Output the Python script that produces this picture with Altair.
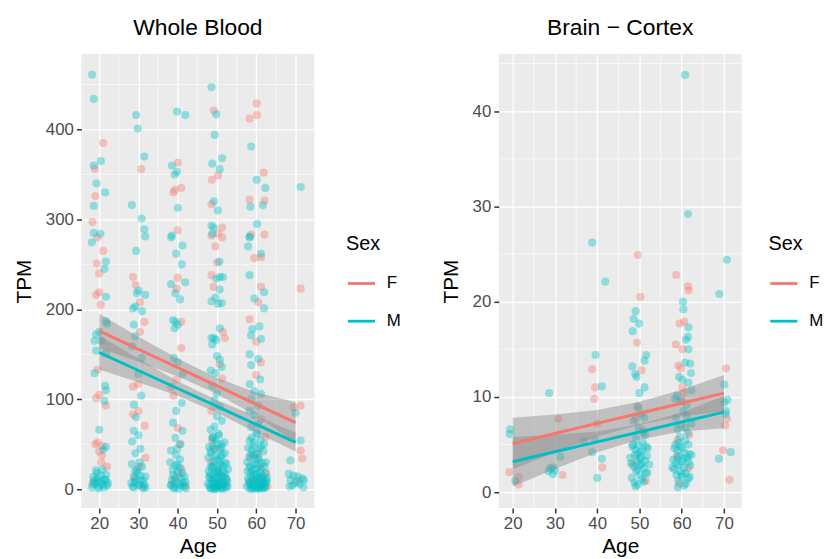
import altair as alt
import pandas as pd

# ---------------- Whole Blood (TPM vs Age) ----------------
wb_F_age = [21, 18.9, 19, 18.3, 19.5, 21, 19.4, 20, 20, 19.2, 20.4, 19.6, 20, 19.2, 21.7, 19.6, 19, 20.8, 20, 20.7, 22, 18.5,
            30.7, 28.6, 29.3, 30.4, 31.5, 30.4, 29.9, 28.6, 30, 28.6, 31.6, 31.8, 29, 31,
            40, 39.3, 40.9, 38.9, 40, 40, 39.7, 40.9, 40.9, 39.7, 38.3, 38.9, 40, 40.5, 41, 39, 42,
            49.2, 50.3, 48.7, 48.6, 51.3, 50.3, 48.6, 51.3, 49.6, 50, 48.6, 49.1, 51.5, 52, 50.7, 51.3, 48.6,
            48.5, 50.5, 51.8, 49.2, 52.3, 50,
            60.1, 58.3, 60.2, 61.9, 58.3, 62.1, 62.1, 58.7, 59.5, 61.2, 61.2, 60.5, 58.3, 60, 61.2, 60, 61.2, 62.4,
            58.5, 61, 62.5, 59.2, 60.8, 62.8,
            71.3, 71.3, 69.6, 71.3, 71.7, 70.5,
            49.8, 51, 48.7, 60.4, 58.9, 61.7, 40.1, 30.2, 20.5]
wb_F_tpm = [385, 356, 326, 297, 280, 265, 251, 240, 219, 216, 205, 133, 105, 101, 93, 52, 50, 48, 42, 37.5, 25, 8,
            356, 236, 227, 208, 186, 175, 117, 114, 87, 83, 70.6, 35, 12, 3,
            363, 333, 335, 330, 288, 235, 223, 186, 157, 122, 114, 104, 68, 50, 22, 8, 4,
            421, 349, 344, 317, 291, 284, 282, 280, 270, 252, 238, 225, 175, 168, 139, 123, 87,
            30, 22, 14, 8, 4, 2,
            429, 412, 416, 352, 322, 321, 283, 283, 257, 258, 225, 208, 189, 164, 141, 127, 78, 58,
            35, 25, 18, 10, 5, 3,
            223, 93, 91, 43, 34, 9,
            45, 12, 55, 40, 8, 13, 15, 25, 30]

wb_M_age = [18.2, 18.6, 18.6, 20.4, 19.3, 21.5, 18.6, 18.6, 20.3, 18.1, 21.7, 21.3, 21.7, 21.7, 22, 19.2, 20, 18.8, 20.6, 19.2,
            21.7, 18.8, 21.5, 21.7, 21.3, 20, 21, 21.7, 19.2, 20.8, 18.5, 19.6, 19, 20.8, 18.3, 20, 21.7, 22, 19.6, 20.4, 21.3,
            18.2, 18.8, 19.4, 20.6, 21.2, 21.8, 22.2, 19.8,
            29.4, 29.8, 31.5, 30.8, 28.3, 31.5, 31.7, 29.4, 30, 31.7, 29.6, 29.2, 30.9, 28.6, 28.8, 29.2, 28.4, 30.8, 30,
            30.7, 28.8, 29.4, 28.8, 30, 28.4, 30.5, 29.2, 28.3, 29.6, 30.5, 28.8, 29, 30.3, 31.2, 28.5, 31.8, 29.8, 30.9,
            28.2, 28.8, 29.4, 30, 30.6, 31.2, 31.8, 29.1, 30.3, 31.5,
            39.8, 41.9, 38.5, 39.8, 39.2, 40, 38.5, 38.3, 41.2, 39.6, 41, 38.3, 41.9, 39.4, 40.6, 38.8, 39.4, 40, 39.2,
            39, 40, 41.2, 41, 39.6, 38.8, 41.2, 39.4, 38.3, 39.6, 40.6, 39.4, 40, 38.8, 38.5, 40.3, 41.5, 39.2, 40.8, 42, 38.2,
            38.1, 38.7, 39.3, 39.9, 40.5, 41.1, 41.7, 38.4, 39, 39.6, 40.2, 40.8, 41.4, 42.1, 39.8, 40.7,
            48.6, 49.8, 49.4, 51.3, 48.8, 50.7, 49.2, 50.2, 48.6, 49.2, 48.8, 50.6, 50.7, 49.8, 51.5, 50.7, 49.6, 48.6,
            51.2, 50.3, 50.7, 48.6, 49.2, 49.8, 48.8, 50, 50.7, 51.2, 48.4, 49.6, 48.8, 50, 49.4, 50.7, 50, 51.2, 49.4,
            48.4, 50.3, 48.9, 50, 51.2, 48.6, 49.6, 50.7, 49, 50, 48.4, 51.2,
            48.2, 49, 49.8, 50.6, 51.4, 52.2, 48.6, 49.4, 50.2, 51, 51.8, 52.5, 48, 49.2, 50.4, 51.6, 52.8, 48.8, 50.8,
            52, 49.6, 51.3, 50, 48.5,
            47.8, 48.3, 48.9, 49.5, 50.1, 50.7, 51.3, 51.9, 52.4, 47.9, 48.4, 49.1, 49.7, 50.3, 50.9, 51.5, 52.1, 52.6,
            47.7, 48.1, 48.7, 49.3, 49.9, 50.5, 51.1, 51.7, 52.3, 48.3, 49.1, 49.9, 50.7, 51.5, 52.7, 48.9, 50.5, 49.3,
            51.1, 52, 48, 50.2,
            58.7, 60.1, 62.3, 58.5, 61.7, 60.2, 58.3, 58.3, 57.9, 61.2, 58.3, 62, 59.5, 62, 59, 60.8, 58.7, 61.2, 58.3,
            60.5, 58.7, 61, 58.3, 59.5, 61.2, 58.7, 60.5, 58.3, 59.5, 60.5, 58.7, 60, 58.3, 59.5, 60.8, 58.7, 60.5, 59.5,
            58.3, 61.2,
            57.8, 58.6, 59.4, 60.2, 61, 61.8, 62.6, 58.2, 59, 59.8, 60.6, 61.4, 62.2, 58.4, 59.2, 60, 60.8, 61.6, 62.4,
            58.8, 60.4, 62, 59.6, 61.2,
            57.7, 58.2, 58.8, 59.4, 60, 60.6, 61.2, 61.8, 62.4, 57.9, 58.5, 59.1, 59.7, 60.3, 60.9, 61.5, 62.1, 62.7,
            57.6, 58.1, 58.7, 59.3, 59.9, 60.5, 61.1, 61.7, 62.3, 58.4, 59.1, 59.9, 60.7, 61.5, 62.5, 58.8, 60.3, 59.3,
            61.1, 62, 57.9, 60.1,
            71.3, 70, 71.3, 68.7, 68.3, 70.5, 71.7, 68.7, 72.1, 70, 69.2,
            68.5, 69.5, 71, 72]
wb_M_tpm = [461, 434, 360, 365, 340, 330, 315, 285, 284, 274.5, 253, 245, 214, 187, 184, 172, 175, 165, 165, 154,
            151, 129, 115, 110, 98, 66, 44, 47, 21, 22, 13.6, 12, 6, 5, 6, 3, 10, 4, 8, 15, 11,
            2, 10, 18, 9, 2, 16, 7, 1,
            416, 401, 370, 301, 316, 289, 281, 265, 221, 216, 218, 203, 198, 201, 183, 170, 159, 146, 128,
            104, 94, 80, 65, 60, 53, 45, 40, 28, 22, 15, 14, 8, 5, 10, 3, 2, 18, 25,
            7, 2, 11, 4, 9, 1, 14, 20, 30, 5,
            420, 416, 360, 353, 350, 313, 282, 280, 271, 262, 250, 228, 230, 218, 211, 188, 186, 183, 179,
            146, 141, 128, 96, 87, 74, 65, 57, 43, 38, 33, 26, 19, 16, 10, 6, 3, 1, 12, 8, 4,
            30, 22, 13, 28, 24, 18, 14, 5, 2, 9, 0.5, 4, 7, 1, 45, 50,
            447, 417, 394, 368, 362, 356, 320, 310, 293, 291, 284, 253, 236, 234, 236, 222, 213, 209,
            207, 206, 179, 168, 168, 166, 161, 148, 144, 136, 132, 129, 115, 107, 99, 92, 81, 76, 70,
            66, 62, 57, 51, 46, 40, 37, 31, 26, 20, 17, 15,
            12, 10, 8, 6, 4, 2, 1, 3, 5, 7, 9, 11, 14, 16, 18, 20, 22, 24, 27,
            30, 0, 1.5, 3, 6,
            35, 42, 48, 55, 33, 44, 38, 52, 28, 20, 25, 31, 19, 24, 36, 25, 17, 8,
            6, 3, 11, 7, 13, 9, 14, 5, 12, 1, 0.5, 2, 1, 0.5, 3, 58, 60, 45,
            50, 40, 47, 15,
            381, 344, 335, 314, 316, 295, 281, 280, 270, 262, 238, 219, 212, 201, 178, 181, 171, 167, 150,
            145, 138, 122, 117, 109, 106, 100, 93, 87, 82, 72, 69, 63, 54, 48, 45, 39, 33, 28,
            24, 22,
            20, 18, 16, 14, 12, 10, 8, 6, 4, 2, 0.5, 3, 5, 7, 9, 11, 13, 15, 17,
            1, 2.5, 1.5, 6.5, 8.5,
            30, 36, 44, 52, 40, 35, 48, 42, 30, 12, 26, 21, 33, 27, 19, 29, 25, 12,
            3, 9, 14, 5, 17, 8, 4, 6, 2, 0.5, 1, 0.8, 1.5, 1, 9, 57, 61, 38,
            55, 50, 46, 23,
            336, 85, 54, 32, 17, 14, 12, 10, 10, 7, 4,
            3, 15, 6, 2]

wb_fit_age = [20, 30, 40, 50, 60, 70]
wb_F_fit = [176, 155.6, 135.2, 114.8, 94.4, 74]
wb_F_lo = [157, 141.6, 125.2, 105.8, 81.4, 52]
wb_F_hi = [195, 169.6, 145.2, 123.8, 107.4, 97]
wb_M_fit = [152, 132, 112, 92, 72, 52]
wb_M_lo = [133, 119, 104, 85, 63, 42]
wb_M_hi = [171, 145, 120, 99, 81, 63]

# ---------------- Brain - Cortex ----------------
bc_F_age = [49.6, 58.7, 61.5, 61.6, 50.2, 59.5, 60.6, 58.6, 49.4, 60.2, 38.8, 59.2, 59.8, 50.5, 39.5, 39.3,
            60.2, 60.5, 70.5, 70.7, 30.8, 40, 41.2, 19.2, 21.4, 21.4, 31.8, 71.3, 69.8, 70.3,
            49.5, 50.8, 60.1, 59, 48.5, 61.5, 51.5, 59.5,
            58.8, 61.8, 49.2]
bc_F_tpm = [24.9, 22.8, 21.6, 21.2, 20.5, 17.7, 17.9, 15.5, 15.7, 15.0, 12.9, 13.3, 13.0, 12.8, 11.0, 9.8,
            11.0, 10.4, 13.0, 7.7, 7.7, 7.2, 2.6, 2.1, 1.6, 0.8, 1.8, 1.3, 4.4, 7.0,
            9.0, 6.5, 9.5, 5.5, 3.0, 2.5, 1.2, 0.9,
            3.8, 6.0, 7.7]

bc_M_age = [60.8, 61.5, 38.8, 70.7, 41.9, 68.9, 60.3, 60.4, 49.1, 48.6, 49.9, 61.6, 48.4, 61, 61.5, 61.6,
            51.6, 51.2, 39.6, 48.3, 60.8, 62, 49, 49.3, 62.2, 59.4, 28.6, 41.1, 51.2, 50, 61.6, 62.3, 58.9,
            70.1, 70.1, 70.4, 36.9, 38.8, 41.1, 31.3, 28.9, 28.5, 19.4, 19.3, 20.6, 29.5, 29.5, 30,
            70.8, 70.5, 71.6, 68.8, 40, 39.5,
            48.5, 49, 49.5, 50, 50.5, 51, 51.5, 48.2, 48.8, 49.4, 50.2, 50.8, 51.4, 49.8, 48.6, 50.4, 51.8,
            49.2, 50.6, 48, 52, 49.6, 50.2,
            48.3, 48.9, 49.5, 50.1, 50.7, 51.3, 51.9, 48.6, 49.2, 49.8, 50.4, 51, 51.6, 47.8, 52.3, 49.1,
            50.8, 49.7, 51.1,
            58.5, 59, 59.5, 60, 60.5, 61, 61.5, 58.2, 58.8, 59.4, 60.2, 60.8, 61.4, 59.8, 58.6, 60.4, 61.8,
            59.2, 60.6, 58, 62, 59.6, 61.2, 58.4, 60, 61.6, 59, 62.3,
            58.3, 58.9, 59.5, 60.1, 60.7, 61.3, 61.9, 58.6, 59.2, 59.8, 60.4, 61, 61.6, 57.8, 62.3, 59.1,
            60.8, 59.7, 61.2, 60.2]
bc_M_tpm = [43.8, 29.2, 26.2, 24.4, 22.1, 20.8, 20.0, 19.2, 19.0, 18.2, 17.7, 17.3, 16.9, 16.0, 16.3, 15.0,
            14.4, 13.8, 14.4, 13.2, 13.6, 13.5, 12.4, 12.1, 12.5, 12.1, 10.4, 11.1, 11.0, 10.4, 11.5, 10.7, 10.1,
            11.3, 9.4, 8.2, 5.4, 4.2, 3.5, 3.7, 2.5, 2.2, 6.6, 6.1, 1.2, 2.6, 1.9, 2.3,
            9.7, 8.5, 4.2, 3.5, 1.5, 5.5,
            5.0, 4.5, 4.0, 3.5, 3.0, 2.5, 2.0, 1.5, 1.0, 3.2, 4.2, 5.2, 6.0, 6.8, 7.5, 8.2, 3.8,
            2.2, 1.4, 3.0, 4.6, 0.8, 2.8,
            4.8, 3.9, 2.4, 1.8, 4.4, 3.3, 2.0, 2.7, 5.6, 4.9, 3.7, 1.1, 4.8, 3.6, 2.9, 0.6,
            6.3, 8.9, 7.8,
            5.0, 4.4, 3.8, 3.2, 2.6, 2.0, 1.4, 2.4, 1.8, 2.9, 4.6, 5.4, 6.2, 7.0, 7.8, 8.5, 4.0,
            1.2, 0.7, 3.4, 2.8, 5.8, 9.2, 9.8, 1.6, 3.2, 6.6, 7.2,
            4.6, 3.6, 2.2, 1.9, 4.1, 3.6, 1.6, 3.0, 5.2, 4.8, 3.5, 0.9, 5.0, 2.6, 3.9, 0.5,
            6.8, 9.6, 8.0, 11.8]

bc_fit_age = [20, 30, 40, 50, 60, 70]
bc_F_fit = [5.1, 6.16, 7.22, 8.28, 9.34, 10.4]
bc_F_lo = [2.4, 4.16, 5.82, 7.08, 7.94, 8.5]
bc_F_hi = [7.8, 8.16, 8.62, 9.48, 10.74, 12.3]
bc_M_fit = [3.2, 4.24, 5.28, 6.32, 7.36, 8.4]
bc_M_lo = [0.6, 2.44, 4.18, 5.52, 6.36, 6.7]
bc_M_hi = [5.8, 6.04, 6.38, 7.12, 8.36, 10.1]

sexes = ["F", "M"]
sex_colors = ["#F8766D", "#00BFC4"]
x_ticks = [20, 30, 40, 50, 60, 70]
x_minor = [25, 35, 45, 55, 65]

FONT = "Liberation Sans"


def points_df(fa, ft, ma, mt):
    return pd.DataFrame({
        "age": list(fa) + list(ma),
        "tpm": list(ft) + list(mt),
        "sex": ["F"] * len(fa) + ["M"] * len(ma),
    })


def fit_df(ages, ff, flo, fhi, mf, mlo, mhi):
    return pd.DataFrame({
        "age": list(ages) * 2,
        "fit": list(ff) + list(mf),
        "lo": list(flo) + list(mlo),
        "hi": list(fhi) + list(mhi),
        "sex": ["F"] * len(ages) + ["M"] * len(ages),
    })


def panel(title, pts, fits, xdom, ydom, y_ticks, y_minor, w, h, lx, ly):
    xs = alt.Scale(domain=xdom, nice=False, zero=False)
    ys = alt.Scale(domain=ydom, nice=False, zero=False)
    cs = alt.Scale(domain=sexes, range=sex_colors)
    xax = alt.Axis(values=x_ticks, titlePadding=4)
    yax = alt.Axis(values=y_ticks, titlePadding=11)
    leg = alt.Legend(
        title="Sex", orient="none", legendX=lx, legendY=ly,
        symbolType="stroke", symbolStrokeWidth=2.8, symbolSize=750, symbolOpacity=1,
        titleFontSize=20, titleFont=FONT, titleFontWeight="normal", titleColor="black",
        labelFontSize=17, labelFont=FONT, labelColor="black", labelOffset=10,
        rowPadding=14, titlePadding=14,
    )

    def X(f):
        return alt.X(f, scale=xs, axis=xax, title="Age")

    def Y(f):
        return alt.Y(f, scale=ys, axis=yax, title="TPM")

    def C():
        return alt.Color("sex:N", scale=cs, legend=leg, title="Sex")

    vgrid = alt.Chart(pd.DataFrame({"v": x_minor})).mark_rule(
        color="white", strokeWidth=0.6
    ).encode(x=X("v:Q"))
    hgrid = alt.Chart(pd.DataFrame({"v": y_minor})).mark_rule(
        color="white", strokeWidth=0.6
    ).encode(y=Y("v:Q"))

    pts_layer = alt.Chart(pts).mark_circle(size=68, opacity=0.38).encode(
        x=X("age:Q"), y=Y("tpm:Q"), color=C(),
    )
    band = alt.Chart(fits).mark_area(color="#8a8a8a", opacity=0.45).encode(
        x=X("age:Q"), y=Y("lo:Q"), y2="hi:Q", detail="sex:N",
    )
    line = alt.Chart(fits).mark_line(strokeWidth=3).encode(
        x=X("age:Q"), y=Y("fit:Q"), color=C(),
    )
    return alt.layer(vgrid, hgrid, pts_layer, band, line).properties(
        width=w, height=h,
        title=alt.TitleParams(title, fontSize=23, font=FONT, fontWeight="normal",
                              color="black", anchor="middle", offset=14),
    )


left = panel(
    "Whole Blood",
    points_df(wb_F_age, wb_F_tpm, wb_M_age, wb_M_tpm),
    fit_df(wb_fit_age, wb_F_fit, wb_F_lo, wb_F_hi, wb_M_fit, wb_M_lo, wb_M_hi),
    [15.45, 74.8], [-21, 484], [0, 100, 200, 300, 400], [50, 150, 250, 350, 450],
    235, 458, 267, 182,
)
right = panel(
    "Brain \u2212 Cortex",
    points_df(bc_F_age, bc_F_tpm, bc_M_age, bc_M_tpm),
    fit_df(bc_fit_age, bc_F_fit, bc_F_lo, bc_F_hi, bc_M_fit, bc_M_lo, bc_M_hi),
    [16.7, 74.2], [-1.67, 46.0], [0, 10, 20, 30, 40], [5, 15, 25, 35, 45],
    245, 458, 272, 182,
)

chart = alt.hconcat(left, right, spacing=39).resolve_scale(
    color="independent", x="independent", y="independent"
).resolve_legend(color="independent").configure_view(
    fill="#EBEBEB", stroke=None
).configure_axis(
    labelFontSize=17, labelFont=FONT, labelColor="#4D4D4D",
    tickColor="#333333", tickSize=5, tickWidth=1.5, domain=False,
    gridColor="white", gridWidth=1.3, labelPadding=3,
    titleFontSize=21, titleFont=FONT, titleFontWeight="normal", titleColor="black",
).properties(
    padding={"left": 5, "top": 6, "right": 0, "bottom": 0}
)

chart.save("out.html", embed_options={"renderer": "svg", "actions": False})
